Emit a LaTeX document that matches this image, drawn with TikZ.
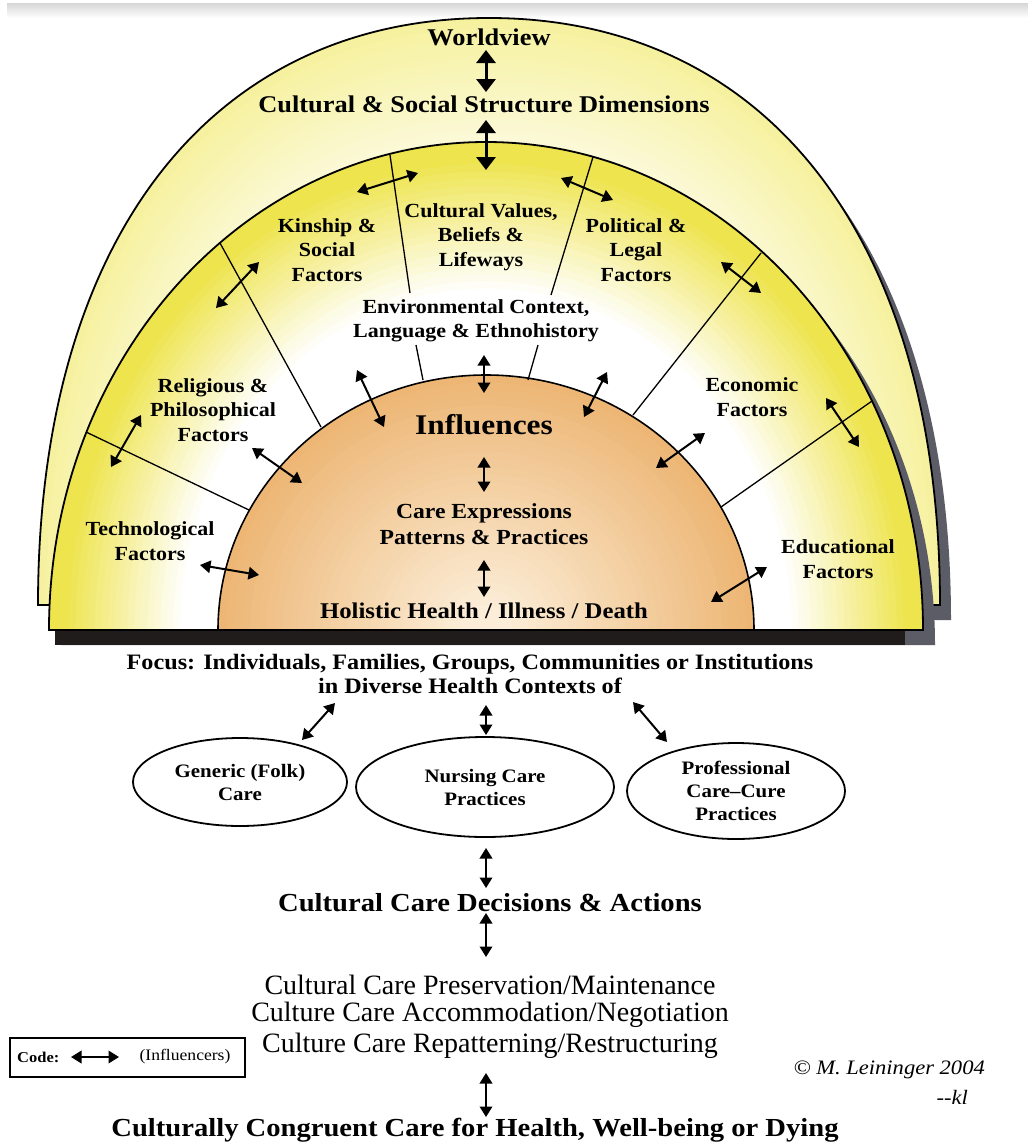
\documentclass[tikz,border=0pt]{standalone}
\usepackage{fontspec}
\setmainfont{Liberation Serif}
\newfontfamily\tb[FakeStretch=1.1]{Liberation Serif}
\usetikzlibrary{arrows.meta,shapes.geometric}
\definecolor{yA}{RGB}{246,241,158}
\definecolor{yB}{RGB}{238,228,78}
\definecolor{orA}{RGB}{237,182,116}
\definecolor{orB}{RGB}{251,237,215}
\definecolor{shad}{RGB}{92,92,102}
\definecolor{barc}{RGB}{32,28,28}
\newcommand\archp[5]{({#1+#3},{#2}) .. controls ({#1+#3},{#2-#5*#4}) and ({#1+#5*#3},{#2-#4}) .. ({#1},{#2-#4}) .. controls ({#1-#5*#3},{#2-#4}) and ({#1-#3},{#2-#5*#4}) .. ({#1-#3},{#2}) -- cycle}
\begin{document}
\begin{tikzpicture}[x=1pt,y=-1pt,
  dbl/.style={line width=2pt,arrows={Triangle[width=12.5pt,length=10.5pt]-Triangle[width=12.5pt,length=10.5pt]}},
  bigdbl/.style={line width=3pt,arrows={Triangle[width=19pt,length=13pt]-Triangle[width=19pt,length=13pt]}},
  divl/.style={line width=1.3pt},
  head/.style={font=\tb\bfseries\fontsize{24}{28}\selectfont,inner sep=0pt},
  band/.style={font=\tb\bfseries\fontsize{20}{24.5}\selectfont,align=center,inner sep=0pt},
  dome/.style={font=\tb\bfseries\fontsize{21.5}{26}\selectfont,align=center,inner sep=0pt},
  ell/.style={draw,ellipse,line width=1.8pt,inner sep=0pt,font=\tb\bfseries\fontsize{19}{23}\selectfont,align=center},
  reg/.style={font=\fontsize{28}{30}\selectfont,inner sep=0pt}
]
\useasboundingbox (0,0) rectangle (1028,1146);
\fill[white] (0,0) rectangle (1028,1146);
\shade[top color=black!16,bottom color=white] (7,3) rectangle (1028,18);

% outer arch
\fill[shad] \archp{500}{620}{451}{587}{0.62};
\foreach \i in {0,...,24}{
  \pgfmathsetmacro\s{1-\i*0.009}
  \pgfmathtruncatemacro\p{100-\i*2.6}
  \fill[yA!\p!white] \archp{489}{605}{451*\s}{587*\s}{0.62};
}
\draw[line width=1.8pt] \archp{489}{605}{451}{587}{0.62};

% middle arch
\fill[shad] \archp{498}{645}{437}{488}{0.5523};
\fill[barc] (55,630) rectangle (905,645);
\foreach \i in {0,...,30}{
  \pgfmathsetmacro\s{1-\i*0.015}
  \pgfmathtruncatemacro\p{max(0,min(100,(\s-0.70)/0.27*100))}
  \fill[yB!\p!white] \archp{486}{630}{437*\s}{488*\s}{0.5523};
}
\draw[line width=1.8pt] \archp{486}{630}{437}{488}{0.5523};

% dome
\foreach \i in {0,...,30}{
  \pgfmathsetmacro\s{1-\i*0.03}
  \pgfmathtruncatemacro\p{100-\i*3.33}
  \fill[orA!\p!orB] \archp{486}{630}{268*\s}{255*\s}{0.5523};
}
\draw[line width=1.6pt] \archp{486}{630}{268}{255}{0.5523};

% divider lines
\coordinate (d1a) at (86,432);  \coordinate (d1b) at (249,510);
\coordinate (d2a) at (220,243); \coordinate (d2b) at (321,427);
\coordinate (d3a) at (390,155); \coordinate (d3b) at (410,293);
\coordinate (d3c) at (416,345); \coordinate (d3d) at (423,380);
\coordinate (d4a) at (593,157); \coordinate (d4b) at (551,295);
\coordinate (d4c) at (538,345); \coordinate (d4d) at (528,380);
\coordinate (d5a) at (761,253); \coordinate (d5b) at (633,415);
\coordinate (d6a) at (872,401); \coordinate (d6b) at (721,507);
\draw[divl] (d1a) -- (d1b);
\draw[divl] (d2a) -- (d2b);
\draw[divl] (d3a) -- (d3b);
\draw[divl] (d3c) -- (d3d);
\draw[divl] (d4a) -- (d4b);
\draw[divl] (d4c) -- (d4d);
\draw[divl] (d5a) -- (d5b);
\draw[divl] (d6a) -- (d6b);

% texts in arches
\node[head] (wv) at (489,37) {Worldview};
\node[head] (cs) at (484,104) {Cultural \& Social Structure Dimensions};
\node[band] (kin) at (327,250) {Kinship \&\\Social\\Factors};
\node[band] (cv) at (481,237) {Cultural Values,\\Beliefs \&\\Lifeways};
\node[band] (pol) at (636,250) {Political \&\\Legal\\Factors};
\node[band] (env) at (476,321) {Environmental Context,\\Language \& Ethnohistory};
\node[band] (rel) at (213,410) {Religious \&\\Philosophical\\Factors};
\node[band] (eco) at (752,397) {Economic\\Factors};
\node[band] (tec) at (150,541) {Technological\\Factors};
\node[band] (edu) at (838,559) {Educational\\Factors};
\node[font=\tb\bfseries\fontsize{28.5}{32}\selectfont,inner sep=0pt] (inf) at (484,425) {Influences};
\node[dome] (care) at (484,524) {Care Expressions\\Patterns \& Practices};
\node[dome,font=\tb\bfseries\fontsize{22.5}{26}\selectfont] (hol) at (484,611) {Holistic Health / Illness / Death};

% arrows in arches
\coordinate (a1a) at (486,50);  \coordinate (a1b) at (486,92);
\coordinate (a2a) at (486,120); \coordinate (a2b) at (486,170);
\draw[bigdbl] (a1a) -- (a1b);
\draw[bigdbl] (a2a) -- (a2b);
\coordinate (k1) at (357,192); \coordinate (k2) at (418,173);
\coordinate (p1) at (561,178); \coordinate (p2) at (613,200);
\coordinate (l1) at (216,308); \coordinate (l2) at (259,262);
\coordinate (r1) at (721,262); \coordinate (r2) at (761,293);
\coordinate (rl1) at (111,467); \coordinate (rl2) at (141,415);
\coordinate (ec1) at (826,398); \coordinate (ec2) at (859,447);
\coordinate (rd1) at (252,448); \coordinate (rd2) at (302,483);
\coordinate (ed1) at (705,433); \coordinate (ed2) at (656,468);
\coordinate (el1) at (357,370); \coordinate (el2) at (384,427);
\coordinate (ec3) at (484,355); \coordinate (ec4) at (484,393);
\coordinate (er1) at (607,372); \coordinate (er2) at (584,417);
\coordinate (ic1) at (484,457); \coordinate (ic2) at (484,492);
\coordinate (ch1) at (484,560); \coordinate (ch2) at (484,597);
\coordinate (t1) at (200,565); \coordinate (t2) at (259,575);
\coordinate (u1) at (767,567); \coordinate (u2) at (711,602);
\foreach \a/\b in {k1/k2,p1/p2,l1/l2,r1/r2,rl1/rl2,ec1/ec2,rd1/rd2,ed1/ed2,el1/el2,ec3/ec4,er1/er2,ic1/ic2,ch1/ch2,t1/t2,u1/u2}
  \draw[dbl] (\a) -- (\b);

% lower part
\node[font=\tb\bfseries\fontsize{22}{24}\selectfont,align=center,inner sep=0pt] (focus) at (470,674)
  {Focus: Individuals, Families, Groups, Communities or Institutions\\in Diverse Health Contexts of};
\node[ell,minimum width=214pt,minimum height=88pt] (gen) at (240,782) {Generic (Folk)\\Care};
\node[ell,minimum width=258pt,minimum height=100pt] (nur) at (485,787) {Nursing Care\\Practices};
\node[ell,minimum width=218pt,minimum height=96pt] (pro) at (736,791) {Professional\\Care–Cure\\Practices};
\coordinate (f1) at (335,703); \coordinate (f2) at (302,740);
\coordinate (f3) at (486,705); \coordinate (f4) at (486,735);
\coordinate (f5) at (633,702); \coordinate (f6) at (667,742);
\draw[dbl] (f1) -- (f2);
\draw[dbl] (f3) -- (f4);
\draw[dbl] (f5) -- (f6);

\node[font=\tb\bfseries\fontsize{26}{30}\selectfont,inner sep=0pt] (dec) at (490,903) {Cultural Care Decisions \& Actions};
\coordinate (g1) at (486,848); \coordinate (g2) at (486,888);
\coordinate (g3) at (486,913); \coordinate (g4) at (486,957);
\draw[dbl] (g1) -- (g2);
\draw[dbl] (g3) -- (g4);
\node[reg] (m1) at (490,985) {Cultural Care Preservation/Maintenance};
\node[reg] (m2) at (490,1015) {Culture Care Accommodation/Negotiation};
\node[reg] (m3) at (490,1046) {Culture Care Repatterning/Restructuring};
\coordinate (g5) at (486,1073); \coordinate (g6) at (486,1117);
\draw[dbl] (g5) -- (g6);
\node[font=\tb\bfseries\fontsize{26}{30}\selectfont,inner sep=0pt] (ccc) at (475,1130) {Culturally Congruent Care for Health, Well-being or Dying};

% code box
\node[draw,line width=2pt,minimum width=235pt,minimum height=39pt,inner sep=0pt] (codebox) at (127.5,1057.5) {};
\node[anchor=west,font=\tb\bfseries\fontsize{15}{18}\selectfont,inner sep=0pt] (codel) at (17,1057) {Code:};
\coordinate (c1) at (71,1057); \coordinate (c2) at (119,1057);
\draw[dbl] (c1) -- (c2);
\node[font=\tb\fontsize{16}{18}\selectfont,inner sep=0pt] (infl) at (185,1057) {(Influencers)};

\node[anchor=east,font=\tb\itshape\fontsize{20.5}{22}\selectfont,inner sep=0pt] (copy) at (985,1070) {© M. Leininger 2004};
\node[anchor=east,font=\tb\itshape\fontsize{20.5}{22}\selectfont,inner sep=0pt] (kl) at (968,1097) {-{}-kl};
\end{tikzpicture}
\end{document}
